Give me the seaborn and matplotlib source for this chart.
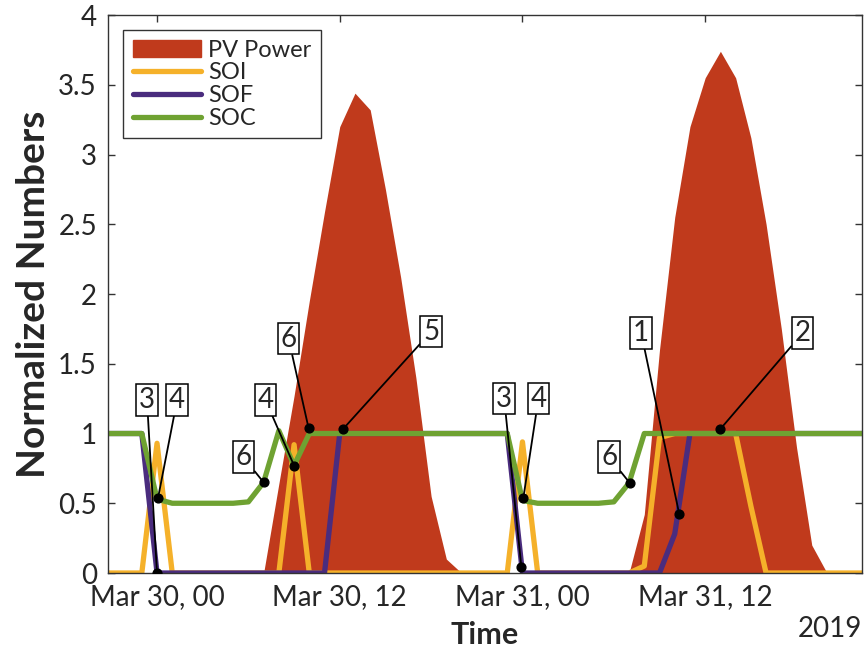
import pandas as pd
import matplotlib
matplotlib.use("Agg")
import matplotlib.pyplot as plt
import matplotlib.dates as mdates
from matplotlib.patches import Patch
from matplotlib.lines import Line2D
import seaborn as sns

# hourly samples, hours relative to Mar 30 2019 00:00
hours = list(range(-4, 48))
pv_power = [0, 0, 0, 0, 0, 0, 0, 0, 0, 0, 0,
            0, 0.64, 1.27, 1.95, 2.59, 3.2, 3.44, 3.32, 2.75, 2.12, 1.4, 0.55, 0.1,
            0, 0, 0, 0, 0, 0, 0, 0, 0, 0, 0,
            0, 0.42, 1.6, 2.55, 3.2, 3.55, 3.74, 3.55, 3.12, 2.5, 1.75, 0.9, 0.2,
            0, 0, 0, 0]
soi = [0, 0, 0, 0, 0.93, 0, 0, 0, 0, 0, 0, 0, 0, 0.92,
       0, 0, 0, 0, 0, 0, 0, 0, 0, 0, 0, 0, 0, 0, 0.94,
       0, 0, 0, 0, 0, 0, 0, 0.05, 0.97, 1, 1, 1, 1, 1, 0.48,
       0, 0, 0, 0, 0, 0, 0, 0]
sof = [1, 1, 1, 1, 0, 0, 0, 0, 0, 0, 0, 0, 0, 0, 0, 0,
       1, 1, 1, 1, 1, 1, 1, 1, 1, 1, 1, 1, 0,
       0, 0, 0, 0, 0, 0, 0, 0, 0, 0.28, 1,
       1, 1, 1, 1, 1, 1, 1, 1, 1, 1, 1, 1]
soc = [1, 1, 1, 1, 0.53, 0.5, 0.5, 0.5, 0.5, 0.5, 0.51, 0.65, 1.02, 0.77,
       1, 1, 1, 1, 1, 1, 1, 1, 1, 1, 1, 1, 1, 1, 0.52,
       0.5, 0.5, 0.5, 0.5, 0.5, 0.51, 0.645, 1,
       1, 1, 1, 1, 1, 1, 1, 1, 1, 1, 1, 1, 1, 1, 1]

# numbered call-outs: point on curve and box position
ann_labels = ['3', '4', '6', '4', '6', '5', '3', '4', '6', '1', '2']
ann_hour = [0, 0.07, 7, 9, 9.95, 12.2, 23.93, 24.06, 31.05, 34.3, 36.98]
ann_value = [0.0, 0.54, 0.65, 0.77, 1.04, 1.03, 0.04, 0.54, 0.645, 0.42, 1.03]
box_hour = [-0.66, 1.32, 5.67, 7.12, 8.64, 18.0, 22.8, 25.05, 29.7, 31.8, 42.4]
box_value = [1.24, 1.24, 0.83, 1.24, 1.68, 1.73, 1.25, 1.25, 0.83, 1.72, 1.72]

start = pd.Timestamp('2019-03-30 00:00')
df = pd.DataFrame({'Time': start + pd.to_timedelta(hours, unit='h'),
                   'PV Power': pv_power, 'SOI': soi, 'SOF': sof, 'SOC': soc})

c_pv = '#C03A1C'
c_soi = '#F5B12A'
c_sof = '#4A2C7E'
c_soc = '#6FA232'

sns.set_style('ticks')
plt.rcParams['font.family'] = ['Lato', 'DejaVu Sans']

fig = plt.figure(figsize=(8.64, 6.68), dpi=100)
ax = fig.add_axes([0.125, 0.1422, 0.8727, 0.8353])

ax.fill_between(df['Time'], df['PV Power'], color=c_pv, lw=0)
sns.lineplot(data=df, x='Time', y='SOI', color=c_soi, lw=3.8, ax=ax)
sns.lineplot(data=df, x='Time', y='SOF', color=c_sof, lw=3.8, ax=ax)
sns.lineplot(data=df, x='Time', y='SOC', color=c_soc, lw=3.8, ax=ax)

pt_t = mdates.date2num(start + pd.to_timedelta(ann_hour, unit='h'))
box_t = mdates.date2num(start + pd.to_timedelta(box_hour, unit='h'))
for lab, x, y, bx, by in zip(ann_labels, pt_t, ann_value, box_t, box_value):
    ax.annotate(lab, xy=(x, y), xytext=(bx, by), fontsize=20,
                ha='center', va='center',
                bbox=dict(boxstyle='square,pad=0.1', fc='white', ec='black', lw=1.1),
                arrowprops=dict(arrowstyle='-', color='black', lw=1.3,
                                shrinkA=0, shrinkB=0))
ax.scatter(pt_t, ann_value, s=40, color='black', zorder=5)

ax.set_xlim(mdates.date2num(start + pd.Timedelta(hours=-3.22)),
            mdates.date2num(start + pd.Timedelta(hours=46.3)))
ax.set_ylim(0, 4)
ax.set_yticks([0, 0.5, 1, 1.5, 2, 2.5, 3, 3.5, 4])
ax.set_yticklabels(['0', '0.5', '1', '1.5', '2', '2.5', '3', '3.5', '4'])
ax.set_xticks(mdates.date2num(start + pd.to_timedelta([0, 12, 24, 36], unit='h')))
ax.xaxis.set_major_formatter(mdates.DateFormatter('%b %d, %H'))
ax.tick_params(direction='in', top=True, right=True, length=5, width=1,
               color='#333333', labelsize=20, pad=8)
for s in ax.spines.values():
    s.set_color('#333333')
    s.set_linewidth(1)

ax.set_xlabel('Time', fontsize=22, fontweight='bold', labelpad=8)
ax.set_ylabel('Normalized Numbers', fontsize=28, fontweight='bold', labelpad=5)
ax.text(1.0, -0.1, '2019', transform=ax.transAxes, ha='right', va='center',
        fontsize=20)

handles = [Patch(color=c_pv, label='PV Power'),
           Line2D([], [], color=c_soi, lw=3.8, label='SOI'),
           Line2D([], [], color=c_sof, lw=3.8, label='SOF'),
           Line2D([], [], color=c_soc, lw=3.8, label='SOC')]
ax.legend(handles=handles, loc='upper left', fontsize=17, frameon=True,
          fancybox=False, edgecolor='#333333', framealpha=1,
          handlelength=2.9, handleheight=0.7, handletextpad=0.3, labelspacing=0.07,
          borderaxespad=0.65, borderpad=0.4)

fig.savefig('out.png', dpi=100)
